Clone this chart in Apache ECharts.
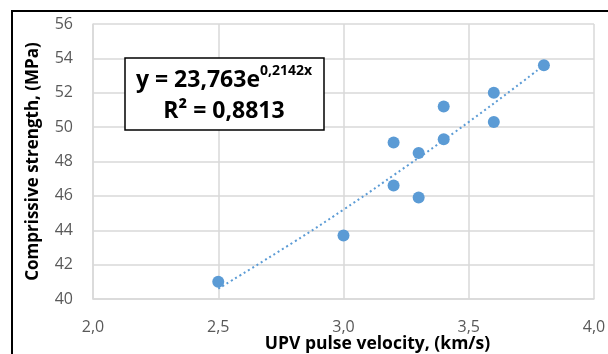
<!DOCTYPE html>
<html>
<head>
<meta charset="utf-8">
<script src="https://cdn.jsdelivr.net/npm/echarts@6/dist/echarts.min.js"></script>
<style>
  html, body { margin: 0; padding: 0; background: #fff; }
  #chart { width: 608px; height: 354px; }
</style>
</head>
<body>
<div id="chart"></div>
<script>
// measured points: UPV pulse velocity (km/s) vs compressive strength (MPa)
var upv      = [2.5, 3.0, 3.2, 3.2, 3.3, 3.3, 3.4, 3.4, 3.6, 3.6, 3.8];
var strength = [41.0, 43.7, 46.6, 49.1, 45.9, 48.5, 49.3, 51.2, 52.0, 50.3, 53.6];

// exponential trendline
var trendX = [2.5, 2.8, 3.0, 3.2, 3.5, 3.8];
var trendY = [40.6, 43.3, 45.2, 47.2, 50.3, 53.6];

var eqLine1 = 'y = 23,763e';
var eqExp   = '0,2142x';
var eqLine2 = 'R² = 0,8813';

var blue = '#5b9bd5';
var fnt = '"Open Sans", "Noto Sans", sans-serif';

var chart = echarts.init(document.getElementById('chart'));

var points = upv.map(function (x, i) { return [x, strength[i]]; });
var trend = trendX.map(function (x, i) { return [x, trendY[i]]; });

var option = {
    animation: false,
    grid: { left: 93, right: 14, top: 24, bottom: 55, outerBoundsMode: 'none' },
    xAxis: {
        type: 'value',
        min: 2, max: 4, interval: 0.5,
        name: 'UPV pulse velocity, (km/s)',
        nameLocation: 'middle',
        nameGap: 36,
        nameMoveOverlap: false,
        nameTextStyle: { fontFamily: fnt, fontWeight: 'bold', fontSize: 17.5, color: '#000', padding: [0, 0, 0, 68] },
        axisLine: { show: true, lineStyle: { color: '#d9d9d9', width: 1.5 } },
        axisTick: { show: false },
        axisLabel: {
            fontFamily: fnt, fontSize: 16, color: '#595959', margin: 20,
            formatter: function (v) { return v.toFixed(1).replace('.', ','); }
        },
        splitLine: { show: true, lineStyle: { color: '#d9d9d9', width: 1.5 } }
    },
    yAxis: {
        type: 'value',
        min: 40, max: 56, interval: 2,
        name: 'Comprissive strength, (MPa)',
        nameLocation: 'middle',
        nameGap: 51,
        nameMoveOverlap: false,
        nameTextStyle: { fontFamily: fnt, fontWeight: 'bold', fontSize: 17, color: '#000' },
        axisLine: { show: true, lineStyle: { color: '#d9d9d9', width: 1.5 } },
        axisTick: { show: false },
        axisLabel: { fontFamily: fnt, fontSize: 16, color: '#595959', margin: 20 },
        splitLine: { show: true, lineStyle: { color: '#d9d9d9', width: 1.5 } }
    },
    series: [
        {
            type: 'line',
            data: trend,
            smooth: true,
            symbol: 'none',
            lineStyle: { color: blue, width: 2, type: [2, 3] },
            z: 2
        },
        {
            type: 'scatter',
            data: points,
            symbol: 'circle',
            symbolSize: 12,
            itemStyle: { color: blue, opacity: 1 },
            z: 3
        }
    ],
    graphic: [
        {
            type: 'rect',
            shape: { x: 12, y: 11, width: 620, height: 360 },
            style: { fill: null, stroke: '#000', lineWidth: 2 },
            silent: true
        },
        {
            type: 'rect',
            shape: { x: 125, y: 58, width: 199, height: 72 },
            style: { fill: '#fff', stroke: '#000', lineWidth: 1.5 },
            z: 10
        },
        {
            type: 'text',
            x: 224, y: 78,
            z: 11,
            style: {
                text: '{b|' + eqLine1 + '}{s|' + eqExp + '}',
                align: 'center', verticalAlign: 'middle',
                rich: {
                    b: { fontFamily: fnt, fontWeight: 'bold', fontSize: 23, fill: '#000', verticalAlign: 'bottom' },
                    s: { fontFamily: fnt, fontWeight: 'bold', fontSize: 14, fill: '#000', verticalAlign: 'top', padding: [0, 0, 13, 0] }
                }
            }
        },
        {
            type: 'text',
            x: 224, y: 111,
            z: 11,
            style: {
                text: eqLine2,
                align: 'center', verticalAlign: 'middle',
                fontFamily: fnt, fontWeight: 'bold', fontSize: 23, fill: '#000'
            }
        }
    ]
};

chart.setOption(option);
</script>
</body>
</html>
